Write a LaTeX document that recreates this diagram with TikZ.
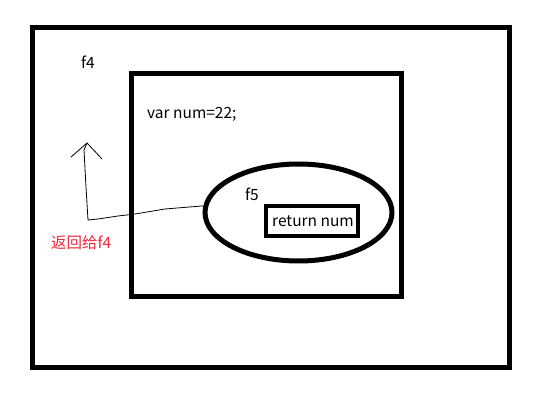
\documentclass[tikz,border=0pt]{standalone}
\usepackage{fontspec}
\setmainfont{Noto Sans CJK SC}
\usetikzlibrary{shapes.geometric}
\definecolor{redtxt}{RGB}{240,40,60}
\begin{document}
\begin{tikzpicture}[x=1pt,y=-1pt,
  frame/.style={draw=black,line width=5pt,inner sep=0pt},
  lbl/.style={font=\fontsize{15.5}{18}\selectfont,inner sep=0pt},
  thin/.style={draw=black,line width=0.8pt}]
\useasboundingbox (0,0) rectangle (552,406);
\node[frame,minimum width=477pt,minimum height=339pt] (outer) at (270.5,197.5) {};
\node[frame,minimum width=270pt,minimum height=223pt] (inner) at (266,185.5) {};
\node[frame,ellipse,minimum width=187pt,minimum height=97pt] (ell) at (298.5,212.5) {};
\node[frame,line width=4pt,minimum width=92pt,minimum height=30pt] (box) at (312,221) {};
\node[lbl] (rtext) at (313,221) {return num};
\node[lbl] (f5) at (252,194) {f5};
\node[lbl,anchor=west] (var) at (147,114) {var num=22;};
\node[lbl] (f4) at (88,62) {f4};
\node[lbl,anchor=west,text=redtxt] (ret) at (51,243) {返回给f4};
\coordinate (tip) at (87,143);
\draw[thin] (ell.176) -- (165,209) -- (135,214) -- (118,216) -- (98,219) -- (88,220) -- (86,187) -- (84,150) -- (tip);
\coordinate (hl) at (71,157);
\coordinate (hr) at (102,159);
\draw[thin] (hl) -- (tip) -- (hr);
\end{tikzpicture}
\end{document}
